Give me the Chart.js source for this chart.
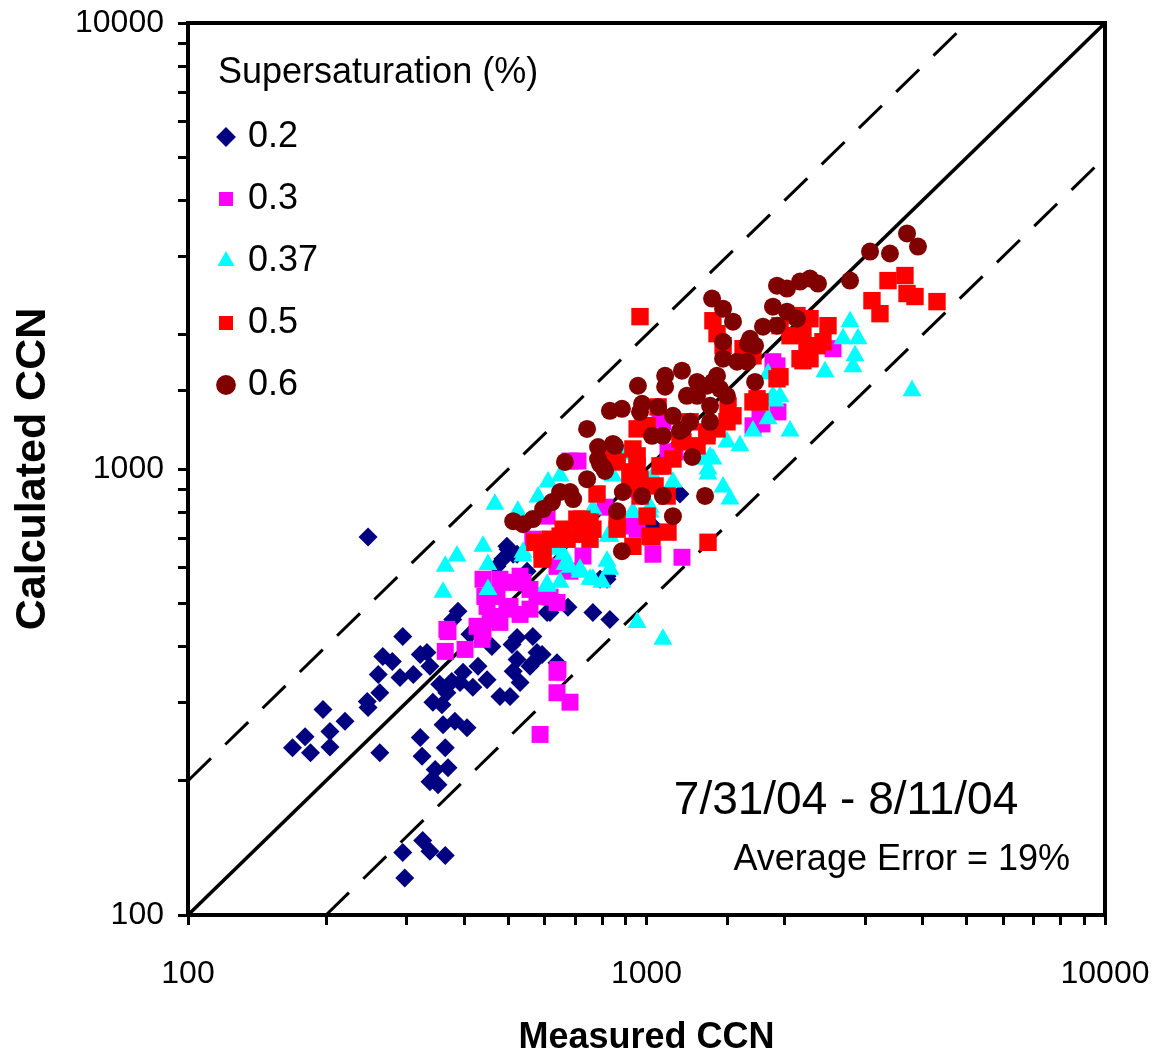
<!DOCTYPE html>
<html>
<head>
<meta charset="utf-8">
<title>Measured vs calculated CCN</title>
<script src="https://cdn.jsdelivr.net/npm/chart.js@4"></script>
<style>
  html, body { margin: 0; padding: 0; background: #fff; }
  #wrap { width: 1155px; height: 1060px; }
</style>
</head>
<body>
<div id="wrap"><canvas id="ccnChart" width="1155" height="1060"></canvas></div>
<script>
// decade labels on both axes
const tickLabels = [100, 1000, 10000];

// 1:1 line and the factor-of-two lines (end points)
const oneToOneX = [100, 10000];
const oneToOneY = [100, 10000];
const twiceX = [100, 5000];
const twiceY = [200, 10000];
const halfX = [200, 10000];
const halfY = [100, 5000];

// supersaturation 0.2 %
const ss02Measured = [247,294,388,321,266,279,260,290,310,337,262,246,247,197,220,204,204,180,169,185,262,321,364,324,360,382,406,342,358,354,376,367,392,418,449,429,398,346,369,337,351,294,325,337,364,297,479,504,530,512,522,509,565,565,592,638,616,674,499,486,549,460,412,378,332,522,577,557,522,472,792,820,607,764,832,820,1033,1183,512,496];
const ss02Calculated = [704,421,480,384,380,370,346,341,346,361,315,301,292,289,272,258,238,251,237,231,231,250,237,227,267,272,263,300,296,329,334,315,332,324,337,361,350,212,214,199,196,138,147,139,136,121,309,309,332,352,374,404,421,368,384,368,477,490,661,628,590,400,426,460,388,419,388,361,644,605,566,566,477,477,460,575,745,879,644,671];

// supersaturation 0.3 %
const ss03Measured = [369,364,402,440,427,472,440,486,538,449,504,557,638,638,681,586,438,456,479,496,530,479,522,557,616,638,472,444,577,681,565,607,638,681,727,934,934,709,1033,1195,954,812,1070,1154,1935,1887,2552,1086,1707,1926,1786,1114,1768,641,367,530];
const ss03Calculated = [432,390,394,432,444,467,566,557,557,492,492,485,350,315,300,254,415,460,453,485,472,566,557,537,516,502,518,518,518,1042,696,784,605,590,638,745,902,1042,644,634,733,821,1276,1092,1343,1740,1861,1276,1250,1703,1262,1092,1296,355,437,575];

// supersaturation 0.37 %
const ss037Measured = [364,386,440,451,360,451,524,467,538,607,648,681,716,658,610,648,580,824,820,934,1018,1142,1308,1376,1362,954,1086,841,734,1033,764,800,638,753,832,832,764,898,845,2779,2683,2893,2850,2821,2451,2056,1841,1707,1599,1498,1362,1469,1521,1328,1955,1018,3794,1907,1841,1887,1396,664,538,716,607];
const ss037Calculated = [605,638,671,611,529,537,804,834,638,551,557,602,596,644,935,964,865,707,621,801,801,935,1053,1064,975,453,415,1026,714,964,566,557,661,566,596,707,813,1081,964,2139,1959,1959,1794,1696,1652,1217,1296,1217,1127,1150,1000,911,856,1053,1452,821,1497,1421,1635,1459,1053,611,651,587,546];

// supersaturation 0.5 %
const ss05Measured = [592,571,592,616,658,671,705,753,753,716,780,845,934,934,934,863,863,934,595,648,723,764,863,954,968,1044,1109,1003,1028,1114,1362,1060,983,1355,1289,1142,968,1396,1469,1624,1707,1955,2129,2273,2488,2426,2239,2162,2273,1926,1707,1506,1425,1183,1086,954,968,1018,742,3363,3103,3230,3662,3700,3851,4301,2194,2355,1955,1742,2056,2194,1768,1544,1498,1355,1244,1201,1003,954,832,1070,920,1425];
const ss05Calculated = [661,685,628,696,733,696,772,760,696,714,879,1053,1109,985,935,772,733,671,638,707,772,733,1037,1016,949,916,870,784,704,722,685,1378,1250,1187,1127,1053,2196,2150,1890,1861,1794,2096,2208,2173,2096,1929,1861,1767,1767,1593,1414,1386,1230,1168,1016,1070,870,707,760,2645,2385,2230,2715,2474,2436,2373,2011,1890,1610,1437,1990,1749,1414,1316,1276,1211,1276,1150,1250,1230,1053,1016,964,2011];

// supersaturation 0.6 %
const ss06Measured = [512,538,565,595,622,648,681,692,664,742,784,854,792,812,888,863,884,742,832,884,968,978,958,1098,1028,1086,1142,1201,1244,1376,1258,978,1086,1342,1142,1355,1390,1469,1544,1926,2025,2162,2273,2366,2779,1887,2025,2129,1795,1926,1469,1665,1725,1469,1576,1656,1425,1396,1289,1195,1098,1225,1289,1498,1376,1447,1725,1060,1183,784,804,3700,3909,3396,3073,1682,845];
const ss06Calculated = [764,752,772,813,843,888,888,856,1037,949,1120,1127,1026,990,888,804,654,1230,1350,1364,1343,1400,1537,1529,1187,1187,1316,1230,1276,1276,1064,870,870,870,784,1537,2410,2288,2139,2577,2538,2632,2673,2605,2645,2312,2253,2173,2085,2096,1929,1910,1890,1767,1740,1740,1618,1568,1568,1661,1618,1459,1459,1459,1386,1513,1568,1378,1217,1053,1010,3375,3153,3042,3073,1959,1138];

const FONT = "'Liberation Sans', Arial, Helvetica, sans-serif";
Chart.defaults.font.family = FONT;
Chart.defaults.color = '#000';

function toPoints(xs, ys) {
    return xs.map((x, i) => ({ x: x, y: ys[i] }));
}

function scatterSet(label, xs, ys, color, style, radius, order) {
    return {
        label: label,
        data: toPoints(xs, ys),
        pointStyle: style,
        pointRadius: radius,
        pointHoverRadius: radius,
        backgroundColor: color,
        borderColor: color,
        borderWidth: 0,
        order: order
    };
}

function refLine(xs, ys, dash, width) {
    return {
        type: 'line',
        label: '',
        data: toPoints(xs, ys),
        borderColor: '#000',
        borderWidth: width,
        borderDash: dash,
        pointRadius: 0,
        fill: false,
        order: 10
    };
}

// box frame, legend placement and the text notes
const frameAndText = {
    id: 'frameAndText',
    afterLayout(chart) {
        const a = chart.chartArea;
        const lg = chart.legend;
        lg.left = a.left + 8;
        lg.top = a.top + 70;
        lg.right = a.right;
        lg.bottom = a.bottom;
    },
    afterDraw(chart) {
        const ctx = chart.ctx;
        const a = chart.chartArea;
        ctx.save();
        ctx.strokeStyle = '#000';
        ctx.lineWidth = 4;
        ctx.beginPath();
        ctx.moveTo(a.left - 2, a.top);
        ctx.lineTo(a.right, a.top);
        ctx.lineTo(a.right, a.bottom + 2);
        ctx.stroke();

        ctx.fillStyle = '#000';
        ctx.textBaseline = 'middle';
        ctx.textAlign = 'left';
        ctx.font = '36px ' + FONT;
        ctx.fillText('Supersaturation (%)', a.left + 30, a.top + 50);

        ctx.textAlign = 'center';
        ctx.font = '46px ' + FONT;
        ctx.fillText('7/31/04 - 8/11/04', a.right - 259, a.bottom - 114);

        ctx.textAlign = 'right';
        ctx.font = '36px ' + FONT;
        ctx.fillText('Average Error = 19%', a.right - 35, a.bottom - 55);
        ctx.restore();
    }
};

const ctx = document.getElementById('ccnChart').getContext('2d');
const ccnChart = new Chart(ctx, {
    type: 'scatter',
    data: {
        datasets: [
            scatterSet('0.2', ss02Measured, ss02Calculated, '#000080', 'rectRot', 9.5, 5),
            scatterSet('0.3', ss03Measured, ss03Calculated, '#FF00FF', 'rect', 12, 4),
            scatterSet('0.37', ss037Measured, ss037Calculated, '#00FFFF', 'triangle', 11, 3),
            scatterSet('0.5', ss05Measured, ss05Calculated, '#FF0000', 'rect', 12.3, 2),
            scatterSet('0.6', ss06Measured, ss06Calculated, '#800000', 'circle', 9, 1),
            refLine(oneToOneX, oneToOneY, [], 3.5),
            refLine(twiceX, twiceY, [32, 20], 3),
            refLine(halfX, halfY, [32, 20], 3)
        ]
    },
    options: {
        responsive: false,
        devicePixelRatio: 1,
        animation: false,
        events: [],
        layout: {
            padding: { top: 23, right: 50, left: 0, bottom: 0 }
        },
        scales: {
            x: {
                type: 'logarithmic',
                min: 100,
                max: 10000,
                afterFit: (scale) => {
                    scale.height = 145;
                    scale.paddingLeft = 0;
                    scale.paddingRight = 0;
                },
                border: { display: true, color: '#000', width: 4 },
                grid: { drawOnChartArea: false, drawTicks: true, tickLength: 10, color: '#000', lineWidth: 3 },
                ticks: {
                    autoSkip: false,
                    maxRotation: 0,
                    padding: 30,
                    font: { size: 32 },
                    color: '#000',
                    callback: (value) => tickLabels.includes(value) ? String(value) : ''
                },
                title: {
                    display: true,
                    text: 'Measured CCN',
                    font: { size: 36, weight: 'bold' },
                    color: '#000',
                    padding: 0
                }
            },
            y: {
                type: 'logarithmic',
                min: 100,
                max: 10000,
                afterFit: (scale) => {
                    scale.width = 188;
                    scale.paddingTop = 0;
                    scale.paddingBottom = 0;
                },
                border: { display: true, color: '#000', width: 4 },
                grid: { drawOnChartArea: false, drawTicks: true, tickLength: 10, color: '#000', lineWidth: 3 },
                ticks: {
                    autoSkip: false,
                    padding: 14,
                    font: { size: 32 },
                    color: '#000',
                    callback: (value) => tickLabels.includes(value) ? String(value) : ''
                },
                title: {
                    display: true,
                    text: 'Calculated CCN',
                    font: { size: 43, weight: 'bold' },
                    color: '#000',
                    padding: { top: 7, bottom: 0 }
                }
            }
        },
        plugins: {
            tooltip: { enabled: false },
            legend: {
                position: 'chartArea',
                align: 'start',
                labels: {
                    usePointStyle: true,
                    boxWidth: 8,
                    boxHeight: 14,
                    padding: 26,
                    font: { size: 36 },
                    color: '#000',
                    filter: (item) => item.datasetIndex < 5,
                    sort: (a, b) => a.datasetIndex - b.datasetIndex
                }
            }
        }
    },
    plugins: [frameAndText]
});
</script>
</body>
</html>
